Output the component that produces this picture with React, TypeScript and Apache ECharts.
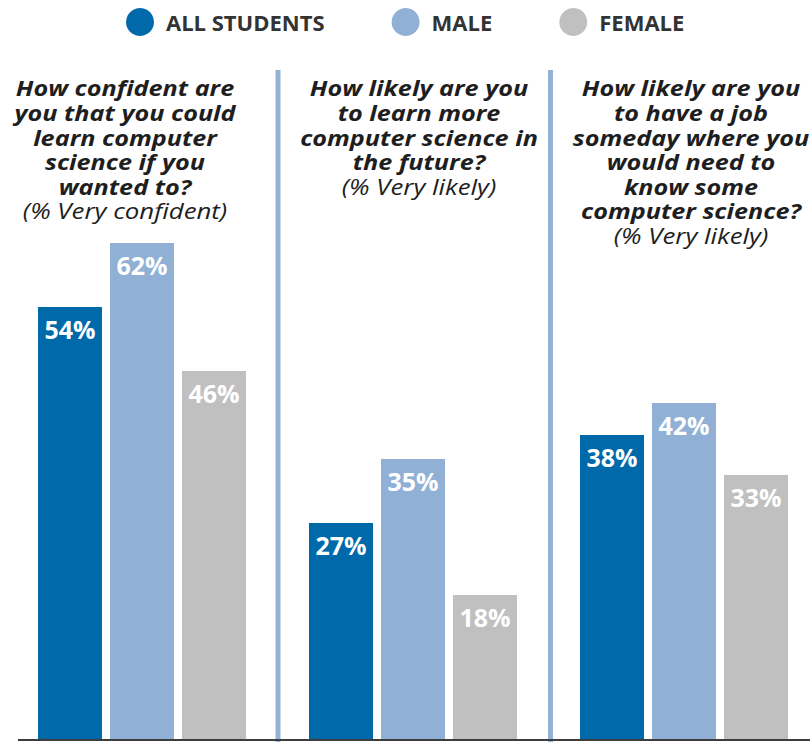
import React, { useEffect, useRef } from "react";
import * as echarts from "echarts";

const categories = ["Q1", "Q2", "Q3"];
const seriesNames = ["ALL STUDENTS", "MALE", "FEMALE"];
const allStudents = [54, 27, 38];
const male = [62, 35, 42];
const female = [46, 18, 33];
const questions = [
  "How confident are\nyou that you could\nlearn computer\nscience if you\nwanted to?",
  "How likely are you\nto learn more\ncomputer science in\nthe future?",
  "How likely are you\nto have a job\nsomeday where you\nwould need to\nknow some\ncomputer science?",
];
const subtitles = ["(% Very confident)", "(% Very likely)", "(% Very likely)"];

const COLORS = ["#0069aa", "#90b0d5", "#c0c0c0"];
const FONT = "'Open Sans', 'DejaVu Sans', sans-serif";

export default function App() {
  const ref = useRef<HTMLDivElement>(null);
  useEffect(() => {
    document.body.style.margin = "0";
    if (!ref.current) return;
    const chart = echarts.init(ref.current, null, { renderer: "svg" });
    const values = [allStudents, male, female];
    const qCenters = [125, 419, 691];
    const graphics: any[] = [];
    questions.forEach((q, i) => {
      graphics.push({
        type: "text",
        x: qCenters[i],
        y: 76,
        z: 10,
        scaleX: 1.2,
        style: {
          text: `{q|${q}}\n{s|${subtitles[i]}}`,
          align: "center",
          textAlign: "center",
          verticalAlign: "top",
          textVerticalAlign: "top",
          rich: {
            q: {
              fontFamily: FONT,
              fontSize: 21,
              fontWeight: "bold",
              fontStyle: "italic",
              lineHeight: 24.6,
              fill: "#1e1e1e",
              color: "#1e1e1e",
              align: "center",
            },
            s: {
              fontFamily: FONT,
              fontSize: 21.5,
              fontWeight: "normal",
              fontStyle: "italic",
              lineHeight: 24.6,
              fill: "#1e1e1e",
              color: "#1e1e1e",
              align: "center",
            },
          },
        },
      });
    });
    [275.5, 548].forEach((x) => {
      graphics.push({
        type: "rect",
        shape: { x, y: 70, width: 5, height: 672 },
        style: { fill: "#93b2d6" },
        z: 1,
      });
    });
    graphics.push({
      type: "line",
      shape: { x1: 18, y1: 740, x2: 810, y2: 740 },
      style: { stroke: "#3d3d3d", lineWidth: 2 },
      z: 20,
    });

    chart.setOption({
      animation: false,
      legend: {
        data: seriesNames,
        icon: "circle",
        itemWidth: 28,
        itemHeight: 28,
        itemGap: 67,
        left: 121,
        top: 3,
        textStyle: {
          fontFamily: FONT,
          fontSize: 22,
          fontWeight: "bold",
          color: "#333333",
          padding: [0, 0, 0, 7],
        },
      },
      grid: { left: 142, width: 542, top: 99, height: 640, containLabel: false },
      xAxis: {
        type: "category",
        data: categories,
        boundaryGap: false,
        axisLine: { show: false },
        axisTick: { show: false },
        axisLabel: { show: false },
        splitLine: { show: false },
      },
      yAxis: {
        type: "value",
        min: 0,
        max: 80,
        show: false,
        splitLine: { show: false },
      },
      graphic: graphics,
      series: seriesNames.map((name, i) => ({
        name,
        type: "bar",
        data: values[i],
        barWidth: 64,
        barGap: "12.5%",
        itemStyle: { color: COLORS[i] },
        label: {
          show: true,
          position: "insideTop",
          distance: 9,
          formatter: "{c}%",
          color: "#ffffff",
          fontFamily: FONT,
          fontSize: 25,
          fontWeight: "bold",
        },
      })),
    });
    return () => chart.dispose();
  }, []);
  return <div ref={ref} style={{ width: 810, height: 742 }} />;
}
